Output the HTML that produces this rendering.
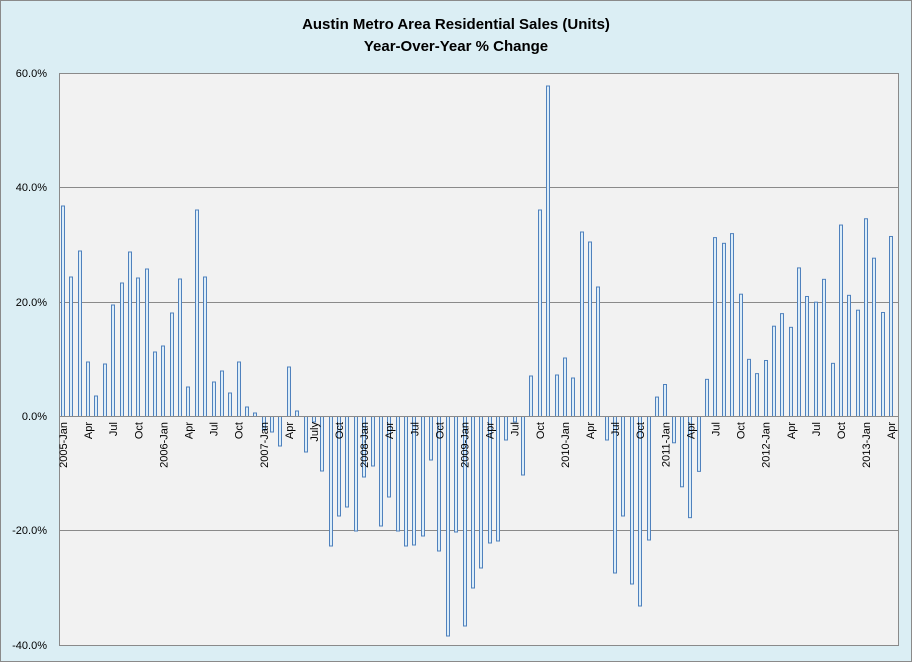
<!DOCTYPE html>
<html><head><meta charset="utf-8"><style>
html,body{margin:0;padding:0;background:#fff}
svg{display:block}
text{font-family:"Liberation Sans",sans-serif}
</style></head><body>
<svg id="s" width="913" height="663" xmlns="http://www.w3.org/2000/svg">
<rect x="0.5" y="0.5" width="911" height="661" fill="#dbeef4" stroke="#8a8a8a"/>
<rect x="59.5" y="73.5" width="839" height="572" fill="#f2f2f2" stroke="#8a8a8a"/>
<g stroke="#8a8a8a" stroke-width="1">
<line x1="59" y1="187.5" x2="898" y2="187.5"/>
<line x1="59" y1="302.5" x2="898" y2="302.5"/>
<line x1="59" y1="530.5" x2="898" y2="530.5"/>
</g>
<text x="456" y="29" text-anchor="middle" font-weight="bold" font-size="15">Austin Metro Area Residential Sales (Units)</text>
<text x="456" y="51" text-anchor="middle" font-weight="bold" font-size="15">Year-Over-Year % Change</text>
<g font-size="11" text-anchor="end">
<text x="47" y="77">60.0%</text>
<text x="47" y="191">40.0%</text>
<text x="47" y="306">20.0%</text>
<text x="47" y="420">0.0%</text>
<text x="47" y="534">-20.0%</text>
<text x="47" y="649">-40.0%</text>
</g>
<g id="bars" fill="#dcedf9" stroke="#4f81bd" stroke-width="1"></g>
<line x1="59" y1="416.5" x2="898" y2="416.5" stroke="#8a8a8a"/>
<g id="labels" font-size="11"></g>
</svg>
<script>
var ys=[206,277,251,362,396,364,305,283,252,278,269,352,
346,313,279,387,210,277,382,371,393,362,407,413,
430,432,446,367,411,452,422,471,546,516,507,531,
477,466,526,497,531,546,545,536,460,551,636,532,
626,588,568,543,541,440,422,475,376,210,86,375,
358,378,232,242,287,440,573,516,584,606,540,397,
384,443,486,518,471,379,237,242,237,294,359,373,
360,326,313,326,267,296,301,280,363,224,295,310,
190,258,312,236];
var tail=[6.5,31.3,30.3,32,21.4,10,7.5,9.8,15.8,18,15.6,26,21,20,24,9.3,33.5,21.2,18.6,34.6,27.7,18.2,31.5];
var head={71:3.4,72:5.6,73:-4.6,74:-12.3,75:-17.7,76:-9.6};
function yv(p){return 416.5-p*114.3/20;}
for(var k in head) ys[k]=yv(head[k]);
for(var i=0;i<tail.length;i++) ys[77+i]=yv(tail[i]);
ys.length=100;
var g=document.getElementById('bars'),ns="http://www.w3.org/2000/svg";
for(var i=0;i<100;i++){
 var cx=63+8.365*i, y=ys[i], b=416.5;
 var r=document.createElementNS(ns,'rect');
 r.setAttribute('x',(Math.round(cx-2)+0.5));
 r.setAttribute('width',3);
 r.setAttribute('y',Math.min(y,b));
 r.setAttribute('height',Math.max(Math.abs(y-b),1));
 g.appendChild(r);
}
var mo=["Jan","Apr","Jul","Oct"];
for(var i=0;i<100;i+=3){
 var yr=2005+Math.floor(i/12),m=(i%12)/3;
 var t=m==0?yr+"-Jan":mo[m];
 if(i==30)t="July";
 var x=63+8.365*i;
 var e=document.createElementNS(ns,'text');
 e.setAttribute('transform','translate('+(x+4)+',422) rotate(-90)');
 e.setAttribute('text-anchor','end');
 e.textContent=t;
 document.getElementById('labels').appendChild(e);
}
</script>
</body></html>
